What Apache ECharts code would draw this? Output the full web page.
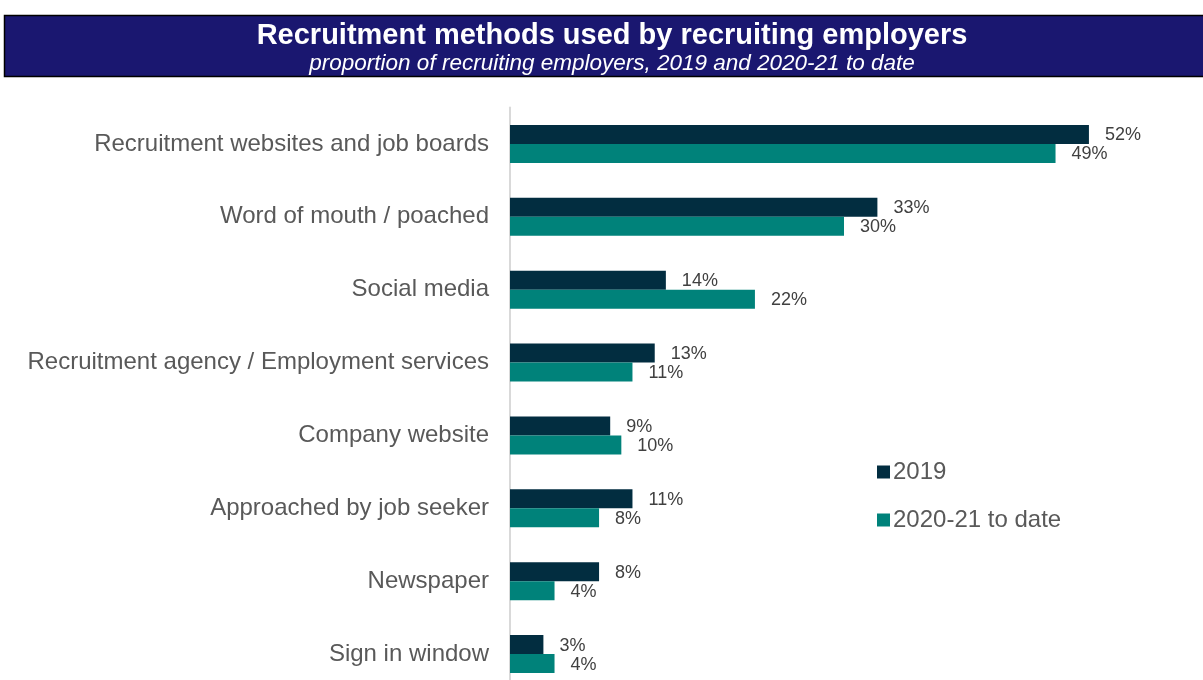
<!DOCTYPE html>
<html>
<head>
<meta charset="utf-8">
<script src="https://cdn.jsdelivr.net/npm/echarts@6/dist/echarts.min.js"></script>
<style>
  html, body { margin: 0; padding: 0; background: #ffffff; }
  #chart { width: 1203px; height: 680px; }
</style>
</head>
<body>
<div id="chart"></div>
<script>
const titleText = 'Recruitment methods used by recruiting employers';
const subtitleText = 'proportion of recruiting employers, 2019 and 2020-21 to date';

const categories = [
  'Recruitment websites and job boards',
  'Word of mouth / poached',
  'Social media',
  'Recruitment agency / Employment services',
  'Company website',
  'Approached by job seeker',
  'Newspaper',
  'Sign in window'
];
const seriesNames = ['2019', '2020-21 to date'];
const values2019 = [52, 33, 14, 13, 9, 11, 8, 3];
const values2020 = [49, 30, 22, 11, 10, 8, 4, 4];

const FONT = '"Liberation Sans", Arial, sans-serif';
const DARK = '#022d40';
const TEAL = '#00827a';

const chart = echarts.init(document.getElementById('chart'), null, { renderer: 'canvas' });

function barSeries(name, data, color) {
  return {
    name: name,
    type: 'bar',
    data: data,
    barWidth: 19,
    barGap: '0%',
    itemStyle: { color: color },
    label: {
      show: true,
      position: 'right',
      distance: 16,
      offset: [0, 1],
      formatter: '{c}%',
      fontFamily: FONT,
      fontSize: 18,
      color: '#404040'
    },
    emphasis: { disabled: true }
  };
}

chart.setOption({
  animation: false,
  backgroundColor: '#ffffff',
  graphic: [
    {
      type: 'rect',
      shape: { x: 4.5, y: 15.5, width: 1204, height: 61 },
      style: { fill: '#1a1770', stroke: '#000000', lineWidth: 1.5 },
      z: 0
    },
    {
      type: 'text',
      x: 612, y: 36,
      style: {
        text: titleText,
        fill: '#ffffff',
        font: 'bold 29px ' + FONT,
        textAlign: 'center',
        textVerticalAlign: 'middle'
      },
      z: 1
    },
    {
      type: 'text',
      x: 612, y: 64,
      style: {
        text: subtitleText,
        fill: '#ffffff',
        font: 'italic 22.5px ' + FONT,
        textAlign: 'center',
        textVerticalAlign: 'middle'
      },
      z: 1
    }
  ],
  legend: {
    orient: 'vertical',
    left: 877,
    top: 460,
    padding: 0,
    itemWidth: 13,
    itemHeight: 13,
    itemGap: 24,
    icon: 'rect',
    data: seriesNames,
    selectedMode: false,
    textStyle: { fontFamily: FONT, fontSize: 24, color: '#595959', lineHeight: 24, padding: [0, 0, 0, -2] }
  },
  grid: {
    left: 510,
    width: 668,
    top: 107.5,
    height: 583,
    outerBoundsMode: 'none',
    containLabel: false
  },
  xAxis: {
    type: 'value',
    min: 0,
    max: 60,
    show: false,
    splitLine: { show: false }
  },
  yAxis: {
    type: 'category',
    data: categories,
    inverse: true,
    axisLine: { show: true, lineStyle: { color: '#d9d9d9', width: 2 } },
    axisTick: { show: false },
    axisLabel: {
      margin: 21,
      fontFamily: FONT,
      fontSize: 24,
      color: '#595959'
    }
  },
  series: [
    barSeries(seriesNames[0], values2019, DARK),
    barSeries(seriesNames[1], values2020, TEAL)
  ]
});
</script>
</body>
</html>
